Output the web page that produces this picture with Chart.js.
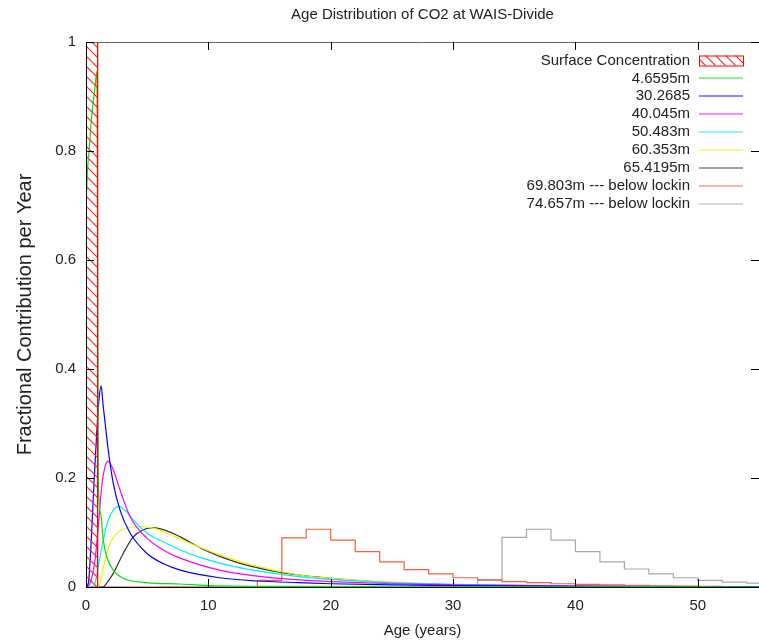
<!DOCTYPE html>
<html>
<head>
<meta charset="utf-8">
<title>Age Distribution of CO2 at WAIS-Divide</title>
<script src="https://cdn.jsdelivr.net/npm/chart.js@4.4.1/dist/chart.umd.min.js"></script>
<style>
  html, body { margin: 0; padding: 0; background: #ffffff; }
  #wrap { position: relative; width: 759px; height: 641px; }
</style>
</head>
<body>
<div id="wrap"><canvas id="age-chart" width="759" height="641"></canvas></div>
<script>
'use strict';

// ---- data ----
var X_TICKS = [0, 10, 20, 30, 40, 50];
var Y_TICKS = [0, 0.2, 0.4, 0.6, 0.8, 1];

var CHART_TITLE = 'Age Distribution of CO2 at WAIS-Divide';
var X_TITLE     = 'Age (years)';
var Y_TITLE     = 'Fractional Contribution per Year';

var SERIES_LABELS = [
  'Surface Concentration', '4.6595m', '30.2685', '40.045m', '50.483m',
  '60.353m', '65.4195m', '69.803m --- below lockin', '74.657m --- below lockin',
];

var SURFACE_AGES   = [0, 0, 0.95, 0.95];
var SURFACE_VALUES = [0, 1, 1, 0];

var D4_AGES   = [0.06, 0.11, 0.25, 0.46, 0.74, 0.9, 1.0, 1.2, 1.41, 1.69, 2.23, 3.05, 4.96, 7.7, 11, 16, 25, 40, 55];
var D4_VALUES = [0.728, 0.76, 0.80, 0.862, 0.918, 0.947, 0.2, 0.135, 0.086, 0.056, 0.031, 0.016, 0.008, 0.0055, 0.002, 0.001, 0.0005, 0.0002, 0];

var D30_AGES   = [0, 0.19, 0.46, 0.65, 0.87, 1.06, 1.23, 1.41, 1.63, 1.82, 2.23, 2.78, 3.6, 4.96, 6.3, 7.7, 10.9, 14, 17.4, 20, 25, 30, 40, 55];
var D30_VALUES = [0, 0.007, 0.099, 0.19, 0.28, 0.343, 0.369, 0.331, 0.288, 0.251, 0.19, 0.141, 0.099, 0.062, 0.043, 0.031, 0.017, 0.011, 0.008, 0.006, 0.004, 0.0025, 0.001, 0.0003];

var D40_AGES   = [0, 0.33, 0.74, 1.0, 1.28, 1.55, 1.8, 2.23, 2.78, 3.6, 4.96, 6.3, 7.7, 10.9, 13.6, 17.4, 20, 25, 30, 40, 55];
var D40_VALUES = [0, 0.007, 0.05, 0.11, 0.184, 0.22, 0.231, 0.215, 0.178, 0.129, 0.09, 0.068, 0.053, 0.031, 0.021, 0.013, 0.01, 0.006, 0.004, 0.0015, 0.0005];

var D50_AGES   = [0, 0.5, 0.74, 1.0, 1.41, 1.82, 2.23, 2.64, 3.19, 3.86, 4.96, 6.3, 7.7, 9.5, 12.2, 17.4, 20, 25, 30, 40, 55];
var D50_VALUES = [0, 0, 0.007, 0.037, 0.086, 0.123, 0.141, 0.148, 0.141, 0.123, 0.099, 0.083, 0.068, 0.053, 0.037, 0.019, 0.014, 0.008, 0.005, 0.002, 0.0005];

var D60_AGES   = [0, 0.9, 1.14, 1.55, 1.96, 2.5, 3.3, 4.4, 5.5, 6.9, 8.2, 10.9, 13.6, 17.4, 20, 25, 30, 40, 55];
var D60_VALUES = [0, 0, 0.007, 0.05, 0.08, 0.098, 0.108, 0.111, 0.108, 0.096, 0.083, 0.059, 0.04, 0.022, 0.016, 0.009, 0.005, 0.0015, 0.0004];

var D65_AGES   = [0, 1.4, 1.69, 2.23, 3.05, 3.86, 4.68, 5.5, 6.6, 7.7, 9.5, 12.2, 14.9, 17.4, 20, 22, 25, 30, 35, 40, 55];
var D65_VALUES = [0, 0, 0.007, 0.025, 0.062, 0.092, 0.105, 0.109, 0.103, 0.092, 0.07, 0.046, 0.031, 0.022, 0.016, 0.012, 0.008, 0.004, 0.002, 0.001, 0.0002];

var D69_AGES   = [0, 14, 16, 18, 20, 22, 24, 26, 28, 30, 32, 34, 36, 38, 40, 42, 44, 46, 48, 50, 52, 54, 56];
var D69_VALUES = [0, 0.012, 0.09, 0.106, 0.086, 0.065, 0.046, 0.032, 0.024, 0.017, 0.013, 0.0098, 0.008, 0.006, 0.005, 0.004, 0.003, 0.002, 0.0015, 0.001, 0.0008, 0.0006, 0.0005];

var D74_AGES   = [0, 32, 34, 36, 38, 40, 42, 44, 46, 48, 50, 52, 54, 56];
var D74_VALUES = [0, 0.012, 0.091, 0.106, 0.086, 0.065, 0.046, 0.033, 0.024, 0.017, 0.012, 0.009, 0.007, 0.005];

// ---- styling ----
var SERIES_COLORS = [
  '#ff0000', '#00e600', '#0000ff', '#ff00ff', '#00f0f0',
  '#f2f200', '#333333', '#f4603c', '#a8a8a8',
];

var PLAIN = '"Liberation Sans", Arial, sans-serif';
var TEXT_COLOR = '#222222';

function pairs(ages, values) {
  return ages.map(function(a, i) { return { x: a, y: values[i] }; });
}

function makeHatch() {
  var c = document.createElement('canvas');
  c.width = 10; c.height = 10;
  var g = c.getContext('2d');
  g.strokeStyle = '#ff2a2a';
  g.lineWidth = 1.2;
  g.beginPath();
  g.moveTo(0, 0);   g.lineTo(10, 10);
  g.moveTo(-5, 5);  g.lineTo(5, 15);
  g.moveTo(5, -5);  g.lineTo(15, 5);
  g.stroke();
  return g.createPattern(c, 'repeat');
}

var hatch = makeHatch();

function curve(idx, ages, values) {
  return {
    label: SERIES_LABELS[idx],
    data: pairs(ages, values),
    borderColor: SERIES_COLORS[idx],
    borderWidth: 1.2,
    pointRadius: 0,
    fill: false,
    cubicInterpolationMode: 'monotone',
  };
}

function steps(idx, ages, values) {
  return {
    label: SERIES_LABELS[idx],
    data: pairs(ages, values),
    borderColor: SERIES_COLORS[idx],
    borderWidth: 1.2,
    pointRadius: 0,
    fill: false,
    stepped: 'before',
  };
}

// gnuplot-like frame: border and inward ticks on all four sides
var framePlugin = {
  id: 'frame',
  afterDatasetsDraw: function(chart) {
    var a = chart.chartArea, ctx = chart.ctx;
    var xs = chart.scales.x, ys = chart.scales.y;
    var TL = 8;
    ctx.save();
    ctx.lineWidth = 1;
    ctx.strokeStyle = '#666666';
    ctx.beginPath();
    ctx.moveTo(a.left, a.top + 0.5); ctx.lineTo(a.right, a.top + 0.5);
    ctx.stroke();
    ctx.strokeStyle = '#000000';
    ctx.beginPath();
    ctx.moveTo(a.left + 0.5, a.top); ctx.lineTo(a.left + 0.5, a.bottom + 0.5);
    ctx.lineTo(a.right, a.bottom + 0.5);
    X_TICKS.forEach(function(v) {
      var px = Math.round(xs.getPixelForValue(v)) + 0.5;
      ctx.moveTo(px, a.bottom); ctx.lineTo(px, a.bottom - TL);
      ctx.moveTo(px, a.top);    ctx.lineTo(px, a.top + TL);
    });
    Y_TICKS.forEach(function(v) {
      var py = Math.round(ys.getPixelForValue(v)) + 0.5;
      ctx.moveTo(a.left, py);  ctx.lineTo(a.left + TL, py);
      ctx.moveTo(a.right, py); ctx.lineTo(a.right - TL, py);
    });
    ctx.stroke();
    ctx.restore();
  },
};

// legend drawn gnuplot style: right aligned text, sample on the right
var keyPlugin = {
  id: 'key',
  afterDraw: function(chart) {
    var ctx = chart.ctx;
    var textRight = 690, sx0 = 699, sx1 = 743;
    ctx.save();
    ctx.font = '15px ' + PLAIN;
    ctx.textAlign = 'right';
    ctx.textBaseline = 'middle';
    chart.data.datasets.forEach(function(ds, i) {
      var y = 60.5 + i * 17.9;
      ctx.fillStyle = TEXT_COLOR;
      ctx.fillText(ds.label, textRight, y);
      if (i === 0) {
        ctx.fillStyle = '#ffffff';
        ctx.fillRect(sx0, y - 5, sx1 - sx0, 10);
        ctx.fillStyle = hatch;
        ctx.fillRect(sx0, y - 5, sx1 - sx0, 10);
        ctx.strokeStyle = '#ff0000';
        ctx.lineWidth = 1;
        ctx.strokeRect(sx0 + 0.5, y - 5 + 0.5, sx1 - sx0, 10);
      } else {
        ctx.globalAlpha = 0.45;
        ctx.strokeStyle = ds.borderColor;
        ctx.lineWidth = 2;
        ctx.beginPath();
        ctx.moveTo(sx0, Math.round(y)); ctx.lineTo(sx1, Math.round(y));
        ctx.stroke();
        ctx.globalAlpha = 1;
      }
    });
    ctx.restore();
  },
};

var ctx = document.getElementById('age-chart').getContext('2d');

var chart = new Chart(ctx, {
  type: 'line',
  data: {
    datasets: [
      {
        label: SERIES_LABELS[0],
        data: pairs(SURFACE_AGES, SURFACE_VALUES),
        borderColor: SERIES_COLORS[0],
        backgroundColor: hatch,
        borderWidth: 1,
        pointRadius: 0,
        tension: 0,
        fill: 'origin',
      },
      curve(1, D4_AGES, D4_VALUES),
      curve(2, D30_AGES, D30_VALUES),
      curve(3, D40_AGES, D40_VALUES),
      curve(4, D50_AGES, D50_VALUES),
      curve(5, D60_AGES, D60_VALUES),
      curve(6, D65_AGES, D65_VALUES),
      steps(7, D69_AGES, D69_VALUES),
      steps(8, D74_AGES, D74_VALUES),
    ],
  },
  options: {
    responsive: false,
    animation: false,
    layout: { padding: 0 },
    plugins: {
      legend: { display: false },
      tooltip: { enabled: false },
      title: {
        display: true,
        fullSize: false,
        text: CHART_TITLE,
        color: TEXT_COLOR,
        font: { family: PLAIN, size: 15, weight: 'normal', lineHeight: 1.2 },
        padding: { top: 6, bottom: 18 },
      },
    },
    scales: {
      x: {
        type: 'linear',
        min: 0,
        max: 55,
        afterBuildTicks: function(scale) {
          scale.ticks = X_TICKS.map(function(v) { return { value: v }; });
        },
        afterFit: function(scale) { scale.height = 54; },
        grid: { display: false, drawTicks: false },
        border: { display: false },
        ticks: { color: TEXT_COLOR, padding: 10, maxRotation: 0,
                 font: { family: PLAIN, size: 15 },
                 callback: function(v) { return String(v); } },
        title: {
          display: true,
          text: X_TITLE,
          color: TEXT_COLOR,
          font: { family: PLAIN, size: 15, lineHeight: 1.2 },
          padding: { top: 0, bottom: 1 },
        },
      },
      y: {
        type: 'linear',
        min: 0,
        max: 1,
        afterBuildTicks: function(scale) {
          scale.ticks = Y_TICKS.map(function(v) { return { value: v }; });
        },
        afterFit: function(scale) { scale.width = 86; },
        grid: { display: false, drawTicks: false },
        border: { display: false },
        ticks: { color: TEXT_COLOR, padding: 10,
                 font: { family: PLAIN, size: 15 },
                 callback: function(v) { return String(v); } },
        title: {
          display: true,
          text: Y_TITLE,
          color: TEXT_COLOR,
          font: { family: PLAIN, size: 20, lineHeight: 1.2 },
          padding: { top: 13, bottom: 0 },
        },
      },
    },
  },
  plugins: [framePlugin, keyPlugin],
});
</script>
</body>
</html>
